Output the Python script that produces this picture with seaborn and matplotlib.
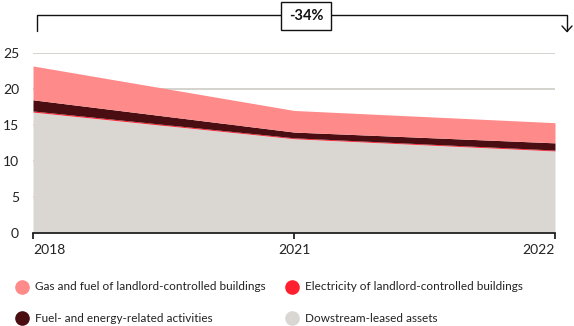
import numpy as np
import pandas as pd
import matplotlib.pyplot as plt
from matplotlib.lines import Line2D
import seaborn as sns

sns.set_style('white')
plt.rcParams['font.family'] = ['Lato', 'DejaVu Sans']

# data (tCO2e, thousands)
years = ['2018', '2021', '2022']
downstream = [16.8, 13.1, 11.4]
electricity = [0.15, 0.12, 0.12]
fuel_energy = [1.55, 0.8, 1.0]
gas_fuel = [4.7, 3.0, 2.8]

labels = ['Dowstream-leased assets', 'Electricity of landlord-controlled buildings',
          'Fuel- and energy-related activities', 'Gas and fuel of landlord-controlled buildings']
colors = ['#dad7d3', '#ff1f2f', '#4a0e12', '#ff8a8a']

df = pd.DataFrame({'year': years, labels[0]: downstream, labels[1]: electricity,
                   labels[2]: fuel_energy, labels[3]: gas_fuel})

fig = plt.figure(figsize=(5.74, 3.26), dpi=100)
ax = fig.add_axes([33 / 574, 1 - 233 / 326, (555 - 33) / 574, (233 - 53) / 326])

x = np.arange(len(years))
ax.stackplot(x, [df[c] for c in labels], colors=colors, linewidth=0)

ax.set_xlim(0, 2)
ax.set_ylim(0, 25)
ax.set_yticks([0, 5, 10, 15, 20, 25])
ax.set_xticks(x)
ax.set_xticklabels(years)
xt = ax.get_xticklabels()
xt[0].set_ha('left')
xt[-1].set_ha('right')
ax.yaxis.grid(True, color='#d2d0ca', linewidth=1.3)
ax.set_axisbelow(True)
ax.tick_params(axis='y', length=0, pad=10, labelsize=10, labelcolor='#222222')
ax.tick_params(axis='x', length=4, width=1.2, color='#111111', pad=4,
               labelsize=10, labelcolor='#222222', direction='out', bottom=True)
sns.despine(ax=ax, left=True)
ax.spines['bottom'].set_color('#111111')
ax.spines['bottom'].set_linewidth(1.2)
ax.spines['bottom'].set_zorder(5)

# change bracket
def fx(px):
    return px / 574

def fy(py):
    return 1 - py / 326

fig.add_artist(Line2D([fx(37), fx(37), fx(567), fx(567)], [fy(31), fy(15), fy(15), fy(31)],
                      color='#111111', linewidth=1.0, transform=fig.transFigure))
fig.add_artist(Line2D([fx(562), fx(567), fx(572)], [fy(26), fy(31.5), fy(26)],
                      color='#111111', linewidth=1.0, transform=fig.transFigure))
fig.text(fx(306), fy(16), '-34%', ha='center', va='center', fontsize=10.5,
         fontweight='bold', color='#111111',
         bbox=dict(boxstyle='square,pad=0.5', facecolor='white', edgecolor='#111111', linewidth=1.0))

# legend
entries = [(3, 22, 287), (1, 292, 287), (2, 22, 318), (0, 292, 318)]
for i, mx, my in entries:
    fig.add_artist(Line2D([fx(mx)], [fy(my)], marker='o', markersize=9.5, linestyle='none',
                          color=colors[i], transform=fig.transFigure))
    fig.text(fx(mx + 13), fy(my), labels[i], ha='left', va='center', fontsize=8.5,
             color='#222222')

fig.savefig('out.png', dpi=100)
